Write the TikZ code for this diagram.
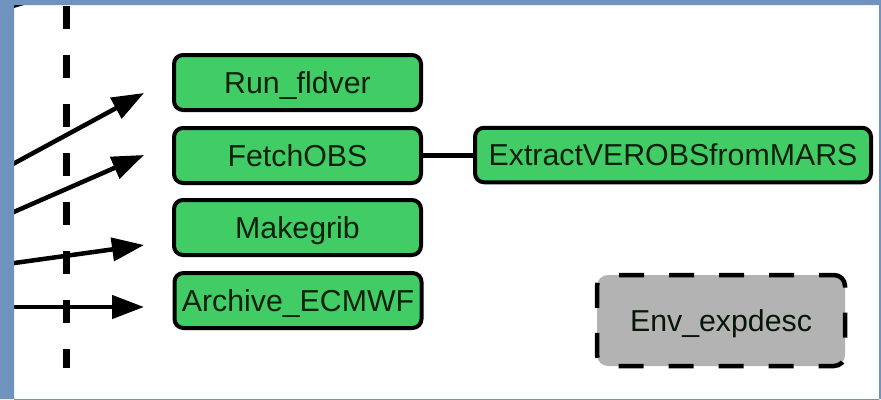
\documentclass[tikz,border=0pt]{standalone}
\usepackage{fontspec}
\setmainfont{Liberation Sans}
\usetikzlibrary{arrows.meta}
\definecolor{framec}{RGB}{112,147,190}
\definecolor{greenc}{RGB}{66,204,102}
\definecolor{grayc}{RGB}{179,179,179}
\definecolor{textc}{RGB}{12,32,12}
\tikzset{
  taskbox/.style={draw=black, line width=4pt, fill=greenc, rounded corners=9pt,
    minimum width=247pt, minimum height=55pt, inner sep=0pt,
    text height=21.5pt, text depth=0pt, text=textc,
    font=\fontsize{30.3}{36}\selectfont},
  envbox/.style={draw=black, line width=4.5pt, fill=grayc, rounded corners=11pt,
    dash pattern=on 25pt off 25pt, dash phase=10pt,
    minimum width=248pt, minimum height=91pt, inner sep=0pt,
    text height=21.5pt, text depth=0pt, text=textc!70!black,
    font=\fontsize{30.3}{36}\selectfont},
  flowarrow/.style={draw=black, line width=4.5pt, -{Triangle[length=32pt,width=23pt]}},
  boundary/.style={draw=black, line width=6.5pt, dash pattern=on 23pt off 26pt},
  link/.style={draw=black, line width=5.5pt}
}
\begin{document}
\begin{tikzpicture}[x=1pt,y=-1pt]
\useasboundingbox (0,0) rectangle (881,399);
\fill[white] (0,0) rectangle (881,399);
% dashed boundary
\draw[boundary] (66.5,6) -- (66.5,368);
% top-left curve fragment
\draw[line width=4pt] (0,13) .. controls (12,6) .. (32,1);
% nodes
\node[taskbox] (run) at (297.5,82.5) {Run\_fldver};
\node[taskbox] (fetch) at (297.5,155.5) {FetchOBS};
\node[taskbox] (make) at (297.5,227.5) {Makegrib};
\node[taskbox] (arch) at (298,300.5) {Archive\_ECMWF};
\node[taskbox, minimum width=396pt, minimum height=54.5pt] (extract) at (673,155) {ExtractVEROBSfromMARS};
\node[envbox] (env) at (721,320.5) {Env\_expdesc};
% link
\draw[link] (fetch.east) -- (fetch.east -| extract.west);
% free-ended arrows
\coordinate (s1) at (0,171);
\coordinate (t1) at (144,93);
\coordinate (s2) at (0,218);
\coordinate (t2) at (144,155);
\coordinate (s3) at (0,265);
\coordinate (t3) at (144,245);
\coordinate (s4) at (0,307);
\coordinate (t4) at (144,307);
\draw[flowarrow] (s1) -- (t1);
\draw[flowarrow] (s2) -- (t2);
\draw[flowarrow] (s3) -- (t3);
\draw[flowarrow] (s4) -- (t4);
% frame
\fill[framec, even odd rule] (0,0) rectangle (881,399) (14,5) rectangle (879,400);
\end{tikzpicture}
\end{document}
